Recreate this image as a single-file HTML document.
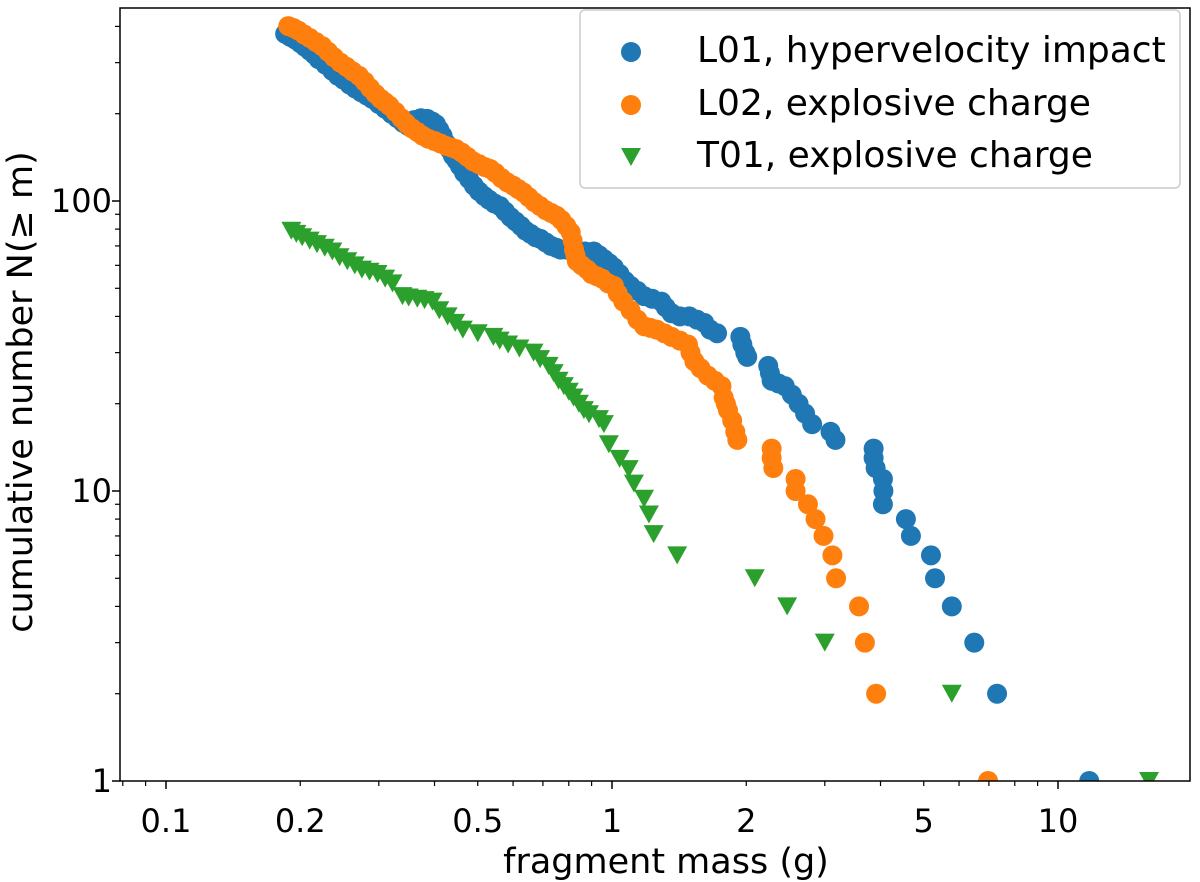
<!DOCTYPE html>
<html><head><meta charset="utf-8">
<style>
html,body{margin:0;padding:0;background:#fff;}
svg{display:block;font-family:"DejaVu Sans","Liberation Sans",sans-serif;}
</style></head>
<body>
<svg id="chart" width="1200" height="882" viewBox="0 0 1200 882">
<defs><clipPath id="plotclip"><rect x="120" y="8" width="1070" height="773"/></clipPath></defs>
<g id="marks" clip-path="url(#plotclip)"></g>
<g id="axes"></g>
<g id="legend"></g>
</svg>
<script>
const l01Mass=[0.185,0.19,0.195,0.2,0.205,0.21,0.215,0.22,0.228,0.236,0.243,0.25,0.258,0.266,0.274,0.282,0.29,0.30,0.31,0.32,0.33,0.34,0.35,0.36,0.373,0.385,0.395,0.403,0.41,0.417,0.425,0.433,0.44,0.448,0.456,0.466,0.478,0.49,0.503,0.517,0.53,0.545,0.561,0.576,0.592,0.608,0.625,0.64,0.657,0.674,0.691,0.71,0.73,0.75,0.767,0.79,0.815,0.84,0.87,0.91,0.935,0.96,0.985,1.01,1.04,1.07,1.1,1.14,1.18,1.23,1.29,1.32,1.36,1.42,1.49,1.55,1.61,1.66,1.72,1.94,1.96,1.99,2.01,2.24,2.26,2.28,2.36,2.44,2.53,2.62,2.71,2.81,3.09,3.17,3.86,3.86,3.90,4.05,4.06,4.05,4.56,4.68,5.19,5.30,5.78,6.49,7.3,11.75];
const l01N=[377,368,360,350,340,330,320,308,295,281,270,262,252,244,237,231,225,216,208,200,193,186,181,190,193,192,188,184,176,168,158,150,143,138,132,125,119,113,108,104,101,98,96,92,88,85,82,79,77,75,74,72,70,69,68,68,67,67,67,67,65,63,61,59,56,53,51,49,47,46,45,43,41,40,40,39,38,36,35,34,32,30,29,27,25.5,24,23.5,23,21.5,20,18.5,17,16,15,14,13,12,11,10,9,8,7,6,5,4,3,2,1];
const l02Mass=[0.188,0.193,0.198,0.204,0.21,0.217,0.224,0.231,0.238,0.246,0.254,0.262,0.271,0.279,0.287,0.295,0.303,0.31,0.317,0.327,0.337,0.346,0.356,0.366,0.376,0.387,0.4,0.412,0.424,0.436,0.447,0.46,0.474,0.488,0.503,0.518,0.533,0.548,0.565,0.582,0.6,0.616,0.633,0.651,0.67,0.69,0.71,0.73,0.751,0.77,0.79,0.808,0.816,0.822,0.828,0.834,0.855,0.88,0.9,0.925,0.95,0.98,1.01,1.03,1.06,1.1,1.14,1.18,1.22,1.26,1.31,1.36,1.42,1.48,1.5,1.53,1.58,1.64,1.7,1.76,1.78,1.8,1.82,1.86,1.89,1.91,2.28,2.28,2.30,2.58,2.58,2.75,2.86,2.98,3.12,3.18,3.58,3.69,3.91,6.97];
const l02N=[401,395,387,375,365,353,342,327,313,300,290,280,270,258,245,234,225,219,213,203,193,185,178,173,168,164,161,158,155,153,151,147,142,137,134,131,129,125,120,116,113,110,107,103,99,96,93,91,89,86,82,78,73,68,65,62,60,58,56,55,54,52,51,48,45,42,39,37,36.5,36,35,34,33,32,30,28,26.5,25,24,23,21,20,19,17.5,16,15,14,13,12,11,10,9,8,7,6,5,4,3,2,1];
const t01Mass=[0.191,0.196,0.202,0.21,0.218,0.227,0.236,0.245,0.255,0.265,0.275,0.286,0.298,0.31,0.322,0.339,0.35,0.366,0.38,0.396,0.41,0.428,0.445,0.463,0.5,0.542,0.56,0.585,0.62,0.667,0.69,0.721,0.74,0.759,0.78,0.80,0.82,0.843,0.865,0.888,0.935,0.959,0.984,1.04,1.09,1.12,1.18,1.21,1.24,1.40,2.09,2.47,3.0,5.78,16.0];
const t01N=[79,77,75,73,71,69,67,64,62,60,58,57,56,54,52,47,46.5,46,45.5,45,42,40,38,36,35,34,33,32,31,30,28.5,27,25.5,24,23,22,21,20,19,18.4,17.7,17,14.5,12.9,11.9,10.6,9.4,8.3,7.1,6,5,4,3,2,1];
const xTickVals=[0.1,0.2,0.5,1,2,5,10];
const xTickLabels=["0.1","0.2","0.5","1","2","5","10"];
const yTickVals=[1,10,100];
const yTickLabels=["1","10","100"];

const NS="http://www.w3.org/2000/svg";
const X0=166,XD=446,Y0=781,YD=290;
function xs(m){return X0+(Math.log10(m)+1)*XD;}
function ys(n){return Y0-Math.log10(n)*YD;}
function mk(tag,attrs,parent){const e=document.createElementNS(NS,tag);for(const k in attrs)e.setAttribute(k,attrs[k]);parent.appendChild(e);return e;}
const marks=document.getElementById('marks'),axes=document.getElementById('axes'),legend=document.getElementById('legend');
const BLUE="#1f77b4",ORANGE="#ff7f0e",GREEN="#2ca02c";
function tri(cx,cy,s){return `${cx-s},${cy-s*0.9} ${cx+s},${cy-s*0.9} ${cx},${cy+s*0.9}`;}

const g1=mk('g',{},marks);


l01Mass.forEach((m,i)=>{const c=mk('circle',{cx:xs(m),cy:ys(l01N[i]),r:10,fill:BLUE},g1);

});
const g2=mk('g',{},marks);


l02Mass.forEach((m,i)=>{const c=mk('circle',{cx:xs(m),cy:ys(l02N[i]),r:10,fill:ORANGE},g2);

});
const g3=mk('g',{},marks);


t01Mass.forEach((m,i)=>{const p=mk('polygon',{points:tri(xs(m),ys(t01N[i]),10),fill:GREEN},g3);

});

const fr=mk('rect',{x:120,y:8,width:1070,height:773,fill:'none',stroke:'#000','stroke-width':1.5},axes);


for(let d=-2;d<=1;d++){for(let k=1;k<=9;k++){const v=k*Math.pow(10,d);const x=xs(v);if(x<120||x>1190)continue;
const major=(k===1);mk('line',{x1:x,x2:x,y1:781,y2:781+(major?8:5),stroke:'#000','stroke-width':major?1.5:1.2},axes);}}
xTickVals.forEach((v,i)=>{const t=mk('text',{x:xs(v),y:832,'font-size':32,'text-anchor':'middle',fill:'#000'},axes);t.textContent=xTickLabels[i];

});
for(let d=0;d<=2;d++){for(let k=1;k<=9;k++){const v=k*Math.pow(10,d);const y=ys(v);if(y<8||y>782)continue;
const major=(k===1);mk('line',{x1:120,x2:120-(major?8:5),y1:y,y2:y,stroke:'#000','stroke-width':major?1.5:1.2},axes);}}
yTickVals.forEach((v,i)=>{const t=mk('text',{x:112,y:ys(v)+11,'font-size':32,'text-anchor':'end',fill:'#000'},axes);t.textContent=yTickLabels[i];

});
const xt=mk('text',{x:666,y:873,'font-size':35,'text-anchor':'middle',fill:'#000'},axes);xt.textContent='fragment mass (g)';


const yt=mk('text',{x:0,y:0,'font-size':35,'text-anchor':'middle',fill:'#000',transform:'translate(32,392) rotate(-90)'},axes);yt.textContent='cumulative number N(\u2265 m)';



const lb=mk('rect',{x:580,y:10,width:600,height:178,rx:5,fill:'#fff','fill-opacity':0.8,stroke:'#ccc','stroke-width':1.5},legend);


const entries=[["L01, hypervelocity impact",BLUE,'c',52],["L02, explosive charge",ORANGE,'c',105],["T01, explosive charge",GREEN,'t',157]];
entries.forEach(e=>{const g=mk('g',{},legend);


if(e[2]==='c')mk('circle',{cx:631,cy:e[3],r:10,fill:e[1]},g);else mk('polygon',{points:tri(631,e[3],10),fill:e[1]},g);
const t=mk('text',{x:697,y:e[3]+10,'font-size':36,fill:'#000'},g);t.textContent=e[0];});
</script>
</body></html>
